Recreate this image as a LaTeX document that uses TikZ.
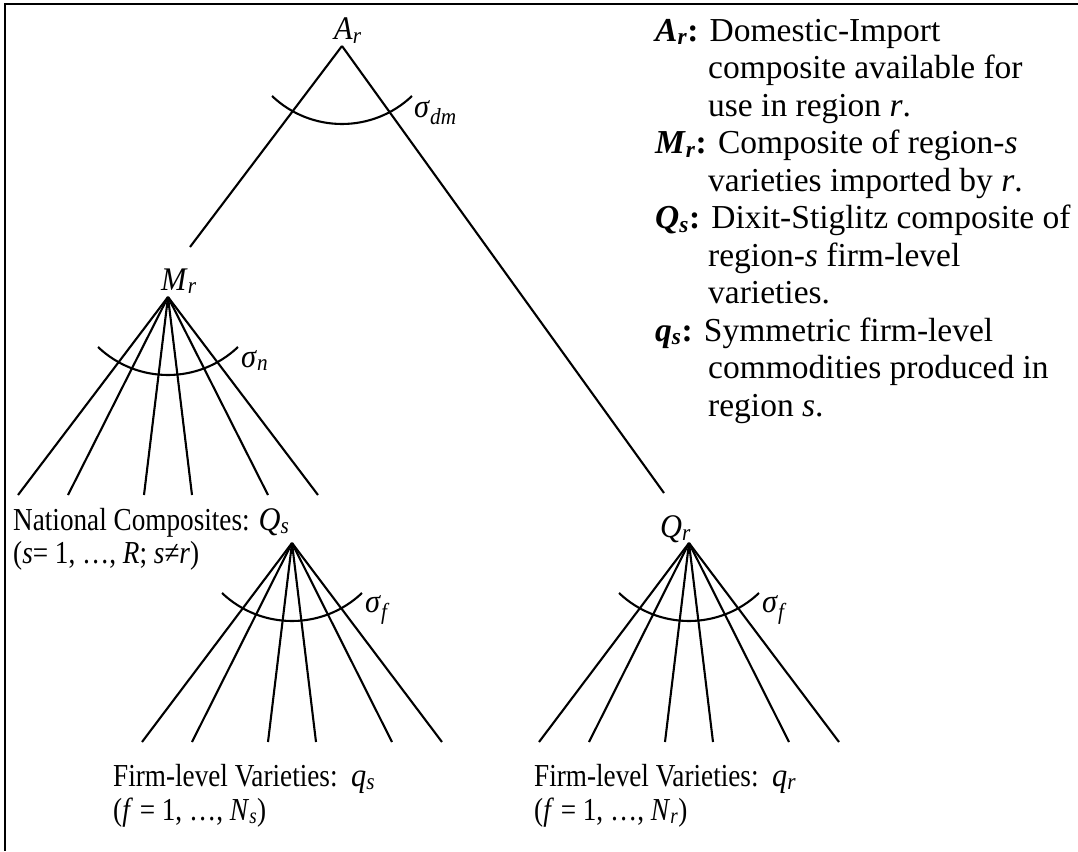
\documentclass[tikz,border=0pt]{standalone}
\usepackage{fontspec}
\setmainfont{Liberation Serif}
\newfontfamily\condfont[FakeStretch=0.85]{Liberation Serif}
\newfontfamily\lblfont[FakeStretch=0.92]{Liberation Serif}
\newcommand\mv[2]{\textit{#1}\textsubscript{\textit{#2}}}
\newcommand\bl[2]{\textbf{\textit{#1}\textsubscript{\textit{#2}}:}}
\newcommand\ind{\hspace*{53pt}}
\newcommand\bigsym{\lblfont\fontsize{33}{38}\selectfont}
\tikzset{
  edge/.style={line width=2.1pt},
  frame/.style={line width=1.6pt},
  lbl/.style={inner sep=0pt, anchor=base west},
  big/.style={font=\bigsym},
  mid/.style={font=\condfont\fontsize{32}{36}\selectfont},
  leg/.style={font=\fontsize{33.5}{37.5}\selectfont, align=left},
}
\newcommand\elast[1]{\draw[edge] (#1) ++(0,23.5) ++(226.4:101.5) arc[start angle=226.4,end angle=313.6,radius=101.5];}
\begin{document}
\begin{tikzpicture}[x=1pt,y=1pt]
\useasboundingbox (0,0) rectangle (1078,-851);
\draw[frame] (1078,-4) -- (5,-4) -- (5,-851);
% top level
\node[lbl,big] (Ar) at (334,-40) {\mv{A}{r}};
\coordinate (Aa) at (342,-46);
\coordinate (Mt) at (190,-247);
\coordinate (Qt) at (664,-493);
\draw[edge] (Aa) -- (Mt);
\draw[edge] (Aa) -- (Qt);
\elast{Aa}
\node[lbl,big] (sdm) at (414,-117) {\textit{σ}\textsubscript{\textit{dm}}};
% M_r
\node[lbl,big] (Mr) at (161,-290) {\mv{M}{r}};
\coordinate (Ma) at (168,-297);
\foreach \dx [count=\i] in {-150,-100,-24,24,100,150}{
  \path (Ma) ++(\dx,-198) coordinate (Me\i);
  \draw[edge] (Ma) -- (Me\i);
}
\elast{Ma}
\node[lbl,big] (sn) at (241,-367) {\textit{σ}\textsubscript{\textit{n}}};
\node[lbl,mid] (nat) at (13,-530) {National Composites: {\bigsym\mv{Q}{s}}};
\node[lbl,mid] (nat2) at (13,-563) {(\textit{s}= 1, …, \textit{R}; \textit{s}≠\textit{r})};
% Q_s
\coordinate (Qsa) at (292,-543);
\foreach \dx [count=\i] in {-150,-100,-24,24,100,150}{
  \path (Qsa) ++(\dx,-199) coordinate (Qse\i);
  \draw[edge] (Qsa) -- (Qse\i);
}
\elast{Qsa}
\node[lbl,big] (sfs) at (365,-612) {\textit{σ}\textsubscript{\textit{f}}};
\node[lbl,mid] (fs) at (113,-786) {Firm-level Varieties:\ \ {\bigsym\mv{q}{s}}};
\node[lbl,mid] (fs2) at (113,-820) {(\textit{f} = 1, …, \mv{N}{s})};
% Q_r
\node[lbl,big] (Qr) at (660,-537) {\mv{Q}{r}};
\coordinate (Qra) at (689,-543);
\foreach \dx [count=\i] in {-150,-100,-24,24,100,150}{
  \path (Qra) ++(\dx,-199) coordinate (Qre\i);
  \draw[edge] (Qra) -- (Qre\i);
}
\elast{Qra}
\node[lbl,big] (sfr) at (762,-612) {\textit{σ}\textsubscript{\textit{f}}};
\node[lbl,mid] (fr) at (534,-786) {Firm-level Varieties:\ \ {\bigsym\mv{q}{r}}};
\node[lbl,mid] (fr2) at (534,-820) {(\textit{f} = 1, …, \mv{N}{r})};
% legend
\node[lbl,leg] (legend) at (655,-416) {%
\bl{A}{r} Domestic-Import\\
\ind composite available for\\
\ind use in region \textit{r}.\\
\bl{M}{r} Composite of region-\textit{s}\\
\ind varieties imported by \textit{r}.\\
\bl{Q}{s} Dixit-Stiglitz composite of\\
\ind region-\textit{s} firm-level\\
\ind varieties.\\
\bl{q}{s} Symmetric firm-level\\
\ind commodities produced in\\
\ind region \textit{s}.};
\end{tikzpicture}
\end{document}
